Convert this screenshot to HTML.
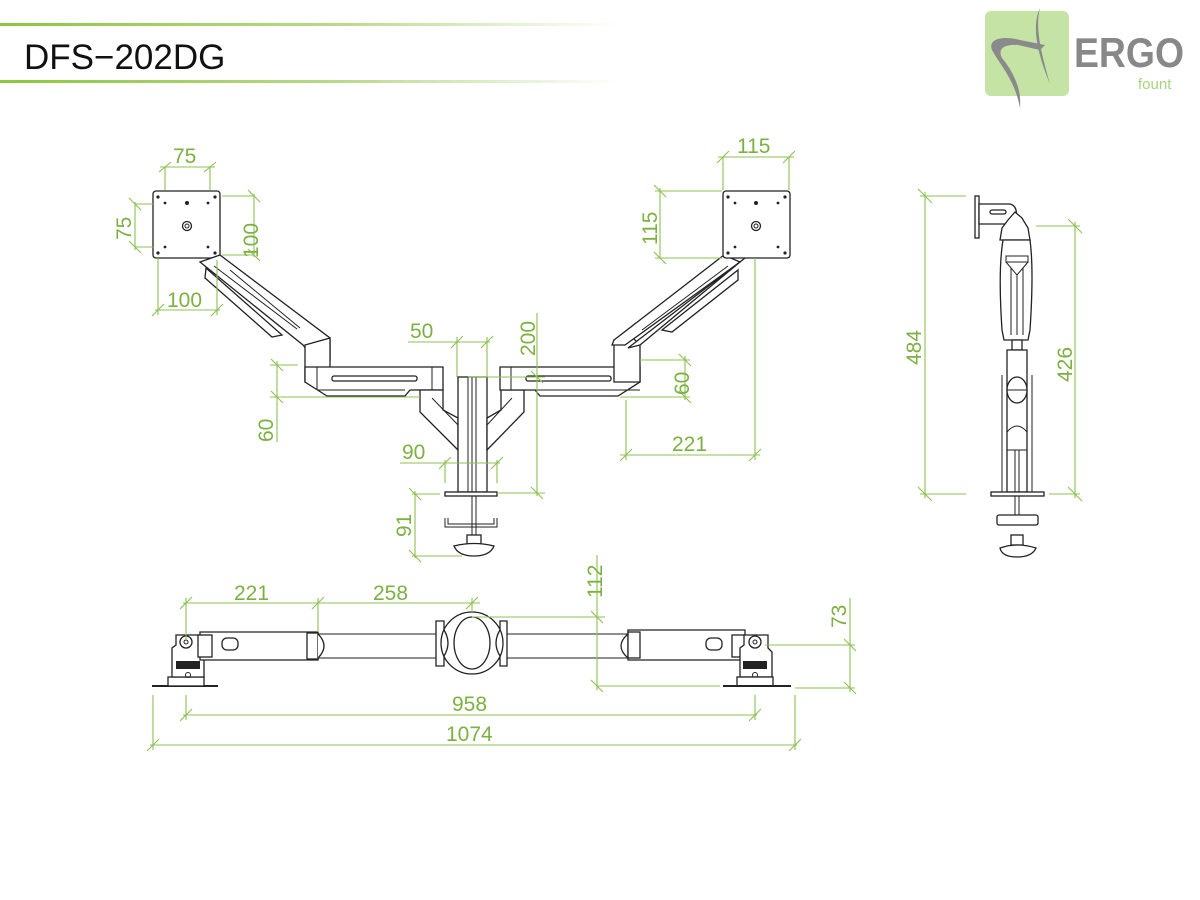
<!DOCTYPE html>
<html><head><meta charset="utf-8"><style>
html,body{margin:0;padding:0;background:#fff;}
svg{display:block}
text{font-family:"Liberation Sans",sans-serif;}
.g{stroke:#8cc152;stroke-width:1.1;fill:none}
.t{fill:#7db043;font-size:21px}
.k{stroke:#222;stroke-width:1.3;fill:#fff}
.kl{stroke:#222;stroke-width:1;fill:none}
</style></head><body>
<svg width="1200" height="900" viewBox="0 0 1200 900" xmlns="http://www.w3.org/2000/svg">
<defs>
<linearGradient id="hg" x1="0" x2="1" y1="0" y2="0">
<stop offset="0" stop-color="#8cc63f"/><stop offset="0.55" stop-color="#b9da8a"/><stop offset="1" stop-color="#fff"/>
</linearGradient>
</defs>
<!-- header -->
<rect x="0" y="23" width="620" height="3" fill="url(#hg)"/>
<rect x="0" y="80" width="620" height="3" fill="url(#hg)"/>
<text x="24" y="69" font-size="35" fill="#111">DFS−202DG</text>
<!-- logo -->
<rect x="985" y="11" width="84" height="85" rx="6" fill="#c5e3a5"/>
<path d="M1050 84 C1040 60,1030 28,1040 8 C1034 30,1044 62,1050 84Z" fill="#8a8a8a"/>
<path d="M1020 108 C1015 80,1000 65,992 50 C988 40,1000 35,1020 40 L1045 45 L1040 50 L1018 45 C1002 44,998 50,1002 58 C1012 70,1022 88,1020 108Z" fill="#8a8a8a"/>
<text x="1074" y="67" font-size="42" font-weight="bold" fill="#888" textLength="110" lengthAdjust="spacingAndGlyphs">ERGO</text>
<text x="1138" y="89" font-size="15" fill="#a8d27c">fount</text>

<!-- LEFT MONITOR PLATE -->
<rect class="k" x="153" y="191" width="67" height="67" rx="3"/>
<g fill="#222"><circle cx="158" cy="197" r="1.6"/><circle cx="215" cy="197" r="1.6"/><circle cx="158" cy="253" r="1.6"/><circle cx="215" cy="253" r="1.6"/>
<circle cx="165" cy="203" r="1.4"/><circle cx="208" cy="203" r="1.4"/><circle cx="165" cy="247" r="1.4"/><circle cx="208" cy="247" r="1.4"/><circle cx="187" cy="203" r="2"/></g>
<circle class="k" cx="187" cy="226" r="4.5"/><circle class="kl" cx="187" cy="226" r="2"/>
<!-- left diag arm -->
<polygon class="k" points="220,255 330,338 330,360 316,362 303,345 200,262"/>
<line class="kl" x1="214" y1="266" x2="297" y2="329"/>
<polygon class="k" points="206,268 282,335 272,337 205,278"/>
<line class="kl" x1="230" y1="270" x2="300" y2="328"/>
<path class="k" d="M305 345 L330 338 L330 382 L305 382 Z"/>
<!-- left horizontal arm -->
<path class="k" d="M305 367 L443 367 L443 390 L410 390 L405 396 L327 396 L305 382 Z"/>
<line class="kl" x1="317" y1="367" x2="317" y2="390"/>
<line class="kl" x1="317" y1="390" x2="405" y2="390"/>
<rect class="k" x="332" y="376" width="85" height="5" rx="2"/>
<line class="kl" x1="432" y1="367" x2="432" y2="390"/>
<!-- left V bracket -->
<path class="k" d="M420 390 L443 390 L443 410 L458 418 L458 450 L420 412 Z"/>
<line class="kl" x1="432" y1="398" x2="458" y2="425"/>
<!-- center pole -->
<rect class="k" x="458" y="377" width="29" height="115"/>
<line class="kl" x1="472" y1="377" x2="472" y2="492"/>
<line class="kl" x1="468" y1="377" x2="468" y2="492"/>
<line class="kl" x1="476" y1="377" x2="476" y2="492"/>
<rect class="k" x="445" y="492" width="52" height="4"/>
<line class="kl" x1="472" y1="496" x2="472" y2="540"/><line class="kl" x1="476" y1="496" x2="476" y2="540"/>
<path class="kl" d="M445 518 L445 527 L497 527 L497 518"/>
<path class="kl" d="M448 518 L448 524 L494 524 L494 518"/>
<rect class="k" x="467" y="535" width="14" height="9"/>
<path class="k" d="M454 546 Q474 541 494 546 Q490 556 474 556 Q458 556 454 546Z"/>

<!-- RIGHT V bracket -->
<path class="k" d="M524 390 L501 390 L501 410 L487 418 L487 450 L524 412 Z"/>
<line class="kl" x1="512" y1="398" x2="487" y2="425"/>
<!-- right horizontal arm -->
<path class="k" d="M500 367 L640 367 L640 382 L618 396 L540 396 L535 390 L500 390 Z"/>
<line class="kl" x1="511" y1="367" x2="511" y2="390"/>
<line class="kl" x1="511" y1="390" x2="640" y2="390"/>
<rect class="k" x="526" y="376" width="85" height="5" rx="2"/>
<path class="k" d="M614 340 L628 333 L640 345 L640 382 L614 382 Z"/>
<!-- right diag arm -->
<polygon class="k" points="724,255 740,262 625,345 612,345 614,340"/>
<polygon class="k" points="740,262 745,258 628,348 640,345"/>
<line class="kl" x1="728" y1="266" x2="642" y2="330"/>
<polygon class="k" points="738,270 738,280 672,332 662,330"/>
<!-- right plate -->
<rect class="k" x="723" y="191" width="67" height="67" rx="3"/>
<g fill="#222"><circle cx="728" cy="197" r="1.6"/><circle cx="785" cy="197" r="1.6"/><circle cx="728" cy="253" r="1.6"/><circle cx="785" cy="253" r="1.6"/>
<circle cx="735" cy="203" r="1.4"/><circle cx="778" cy="203" r="1.4"/><circle cx="735" cy="247" r="1.4"/><circle cx="778" cy="247" r="1.4"/><circle cx="756" cy="203" r="2"/></g>
<circle class="k" cx="756" cy="226" r="4.5"/><circle class="kl" cx="756" cy="226" r="2"/>

<!-- FRONT DIMENSIONS -->
<g class="g">
<line x1="160" y1="167" x2="215" y2="167"/><line x1="165" y1="167" x2="165" y2="190"/><line x1="210" y1="167" x2="210" y2="190"/>
<line x1="159" y1="172" x2="171" y2="162"/><line x1="204" y1="172" x2="216" y2="162"/>
<line x1="135" y1="202" x2="135" y2="250"/><line x1="135" y1="204" x2="153" y2="204"/><line x1="135" y1="247" x2="153" y2="247"/>
<line x1="129" y1="198" x2="141" y2="210"/><line x1="129" y1="241" x2="141" y2="253"/>
<line x1="254" y1="194" x2="254" y2="257"/><line x1="222" y1="196" x2="254" y2="196"/><line x1="222" y1="255" x2="254" y2="255"/>
<line x1="248" y1="190" x2="260" y2="202"/><line x1="248" y1="249" x2="260" y2="261"/>
<line x1="155" y1="310" x2="220" y2="310"/><line x1="158" y1="258" x2="158" y2="315"/><line x1="217" y1="260" x2="217" y2="315"/>
<line x1="152" y1="316" x2="164" y2="304"/><line x1="211" y1="316" x2="223" y2="304"/>
<!-- 60 left -->
<line x1="277" y1="361" x2="277" y2="442"/><line x1="270" y1="365" x2="298" y2="365"/><line x1="270" y1="397" x2="420" y2="397"/>
<line x1="271" y1="359" x2="283" y2="371"/><line x1="271" y1="391" x2="283" y2="403"/>
<!-- 50 -->
<line x1="408" y1="342" x2="490" y2="342"/><line x1="457" y1="337" x2="457" y2="377"/><line x1="487" y1="337" x2="487" y2="377"/>
<line x1="451" y1="348" x2="463" y2="336"/><line x1="481" y1="348" x2="493" y2="336"/>
<!-- 200 -->
<line x1="537" y1="313" x2="537" y2="496"/><line x1="468" y1="377" x2="545" y2="377"/><line x1="497" y1="493" x2="545" y2="493"/>
<line x1="531" y1="371" x2="543" y2="383"/><line x1="531" y1="487" x2="543" y2="499"/>
<!-- 90 -->
<line x1="400" y1="463" x2="500" y2="463"/><line x1="445" y1="460" x2="445" y2="483"/><line x1="497" y1="460" x2="497" y2="483"/>
<line x1="439" y1="469" x2="451" y2="457"/><line x1="491" y1="469" x2="503" y2="457"/>
<!-- 91 -->
<line x1="415" y1="491" x2="415" y2="558"/><line x1="412" y1="494" x2="440" y2="494"/><line x1="412" y1="556" x2="462" y2="556"/>
<line x1="409" y1="488" x2="421" y2="500"/><line x1="409" y1="550" x2="421" y2="562"/>
<!-- 60 right -->
<line x1="685" y1="356" x2="685" y2="400"/><line x1="640" y1="360" x2="690" y2="360"/><line x1="620" y1="397" x2="690" y2="397"/>
<line x1="679" y1="354" x2="691" y2="366"/><line x1="679" y1="391" x2="691" y2="403"/>
<!-- 221 right -->
<line x1="620" y1="455" x2="760" y2="455"/><line x1="626" y1="400" x2="626" y2="460"/><line x1="755" y1="258" x2="755" y2="460"/>
<line x1="620" y1="461" x2="632" y2="449"/><line x1="749" y1="461" x2="761" y2="449"/>
<!-- 115 top -->
<line x1="718" y1="157" x2="794" y2="157"/><line x1="723" y1="157" x2="723" y2="190"/><line x1="789" y1="157" x2="789" y2="190"/>
<line x1="717" y1="163" x2="729" y2="151"/><line x1="783" y1="163" x2="795" y2="151"/>
<!-- 115 left -->
<line x1="660" y1="188" x2="660" y2="258"/><line x1="655" y1="191" x2="722" y2="191"/><line x1="655" y1="258" x2="722" y2="258"/>
<line x1="654" y1="185" x2="666" y2="197"/><line x1="654" y1="252" x2="666" y2="264"/>
</g>
<g class="t">
<text x="173" y="163">75</text>
<text transform="translate(131,240) rotate(-90)">75</text>
<text transform="translate(258,258) rotate(-90)">100</text>
<text x="167" y="307">100</text>
<text transform="translate(273,442) rotate(-90)">60</text>
<text x="410" y="338">50</text>
<text transform="translate(535,356) rotate(-90)">200</text>
<text x="402" y="459">90</text>
<text transform="translate(411,537) rotate(-90)">91</text>
<text transform="translate(689,395) rotate(-90)">60</text>
<text x="672" y="451">221</text>
<text x="737" y="153">115</text>
<text transform="translate(657,245) rotate(-90)">115</text>
</g>

<!-- SIDE VIEW -->
<rect class="k" x="975" y="196" width="4" height="42"/>
<path class="k" d="M979 204 L1010 204 Q1018 206 1016 218 L1008 224 L979 224 Z"/>
<rect class="k" x="990" y="210" width="16" height="4" rx="2"/>
<path class="k" d="M1008 220 L1015 212 L1022 218 L1028 228 L1030 240 L1000 240 L1002 228 Z"/>
<path class="k" d="M1003 240 L1030 240 Q1034 270 1030 330 L1028 340 L1004 340 L1002 330 Q998 270 1003 240Z"/>
<rect class="kl" x="1006" y="256" width="22" height="6"/>
<path class="kl" d="M1006 262 L1017 275 L1028 262"/>
<line class="kl" x1="1011" y1="268" x2="1011" y2="335"/><line class="kl" x1="1017" y1="275" x2="1017" y2="335"/><line class="kl" x1="1023" y1="268" x2="1023" y2="335"/>
<rect class="k" x="1012" y="340" width="10" height="10"/>
<path class="k" d="M1007 350 L1027 350 L1027 492 L1007 492 Z"/>
<line class="kl" x1="1002" y1="375" x2="1002" y2="492"/><line class="kl" x1="1032" y1="375" x2="1032" y2="492"/>
<ellipse class="k" cx="1017" cy="390" rx="10" ry="13"/>
<line class="kl" x1="1007" y1="390" x2="1027" y2="390"/>
<path class="kl" d="M1007 432 Q1017 420 1027 432"/>
<line class="kl" x1="1007" y1="450" x2="1027" y2="450"/>
<line class="kl" x1="1015" y1="450" x2="1015" y2="515"/><line class="kl" x1="1019" y1="450" x2="1019" y2="515"/>
<rect class="k" x="991" y="492" width="53" height="4"/>
<rect class="k" x="997" y="515" width="41" height="10" rx="2"/>
<rect class="k" x="1011" y="535" width="12" height="10"/>
<path class="k" d="M1000 548 Q1017 542 1036 548 Q1032 557 1017 557 Q1002 557 1000 548Z"/>
<g class="g">
<line x1="925" y1="192" x2="925" y2="498"/><line x1="920" y1="196" x2="966" y2="196"/><line x1="920" y1="494" x2="966" y2="494"/>
<line x1="918" y1="189" x2="932" y2="203"/><line x1="918" y1="487" x2="932" y2="501"/>
<line x1="1075" y1="222" x2="1075" y2="498"/><line x1="1036" y1="226" x2="1080" y2="226"/><line x1="1049" y1="494" x2="1080" y2="494"/>
<line x1="1068" y1="219" x2="1082" y2="233"/><line x1="1068" y1="487" x2="1082" y2="501"/>
</g>
<g class="t">
<text transform="translate(921,365) rotate(-90)">484</text>
<text transform="translate(1072,382) rotate(-90)">426</text>
</g>

<!-- TOP VIEW -->
<line x1="152" y1="686" x2="218" y2="686" stroke="#222" stroke-width="2"/>
<rect class="k" x="168" y="677" width="36" height="9"/>
<path class="k" d="M172 677 L172 648 L176 645 L176 635 L200 635 L200 648 L204 652 L204 677Z"/>
<circle class="k" cx="186" cy="642" r="6"/><circle class="kl" cx="186" cy="642" r="2"/>
<rect x="176" y="661" width="24" height="8" fill="#222"/>
<circle class="kl" cx="188" cy="675" r="2.5"/>
<path class="k" d="M200 632 L318 632 L318 660 L200 660 Z"/>
<rect class="k" x="198" y="635" width="14" height="22"/>
<rect class="k" x="222" y="638" width="16" height="12" rx="5"/>
<path class="k" d="M307 633 L318 633 L318 659 L307 659 Z"/>
<path class="k" d="M318 634 Q330 646 318 658"/>
<line class="kl" x1="318" y1="634" x2="438" y2="634"/><line class="kl" x1="318" y1="658" x2="438" y2="658"/>
<path class="k" d="M436 621 L444 621 L444 666 L436 666 Z"/>
<path class="k" d="M500 621 L507 621 L507 666 L500 666 Z"/>
<circle class="k" cx="472" cy="643" r="31"/>
<ellipse class="k" cx="472" cy="643" rx="18" ry="26"/>
<path class="k" d="M444 630 Q452 643 444 656 M500 630 Q492 643 500 656"/>
<line class="kl" x1="507" y1="634" x2="628" y2="634"/><line class="kl" x1="507" y1="658" x2="628" y2="658"/>
<path class="k" d="M628 634 Q614 646 628 658"/>
<path class="k" d="M628 630 L745 630 L745 660 L628 660 Z"/>
<rect class="k" x="628" y="632" width="12" height="26"/>
<rect class="k" x="706" y="638" width="16" height="12" rx="5"/>
<rect class="k" x="732" y="635" width="14" height="22"/>
<path class="k" d="M740 677 L740 648 L744 645 L744 635 L768 635 L768 648 L772 652 L772 677Z"/>
<circle class="k" cx="755" cy="642" r="6"/><circle class="kl" cx="755" cy="642" r="2"/>
<rect x="743" y="661" width="24" height="8" fill="#222"/>
<circle class="kl" cx="755" cy="675" r="2.5"/>
<rect class="k" x="737" y="677" width="36" height="9"/>
<line x1="723" y1="686" x2="791" y2="686" stroke="#222" stroke-width="2"/>
<g class="g">
<line x1="183" y1="603" x2="480" y2="603"/><line x1="186" y1="598" x2="186" y2="640"/><line x1="318" y1="598" x2="318" y2="632"/><line x1="472" y1="598" x2="472" y2="612"/>
<line x1="180" y1="609" x2="192" y2="597"/><line x1="312" y1="609" x2="324" y2="597"/><line x1="466" y1="609" x2="478" y2="597"/>
<line x1="597" y1="555" x2="597" y2="690"/><line x1="472" y1="617" x2="605" y2="617"/><line x1="597" y1="686" x2="720" y2="686"/>
<line x1="591" y1="611" x2="603" y2="623"/><line x1="591" y1="680" x2="603" y2="692"/>
<line x1="850" y1="598" x2="850" y2="692"/><line x1="765" y1="645" x2="855" y2="645"/><line x1="795" y1="688" x2="855" y2="688"/>
<line x1="844" y1="639" x2="856" y2="651"/><line x1="844" y1="682" x2="856" y2="694"/>
<line x1="183" y1="715" x2="757" y2="715"/><line x1="186" y1="695" x2="186" y2="720"/><line x1="755" y1="695" x2="755" y2="720"/>
<line x1="180" y1="721" x2="192" y2="709"/><line x1="749" y1="721" x2="761" y2="709"/>
<line x1="150" y1="745" x2="797" y2="745"/><line x1="153" y1="695" x2="153" y2="750"/><line x1="795" y1="695" x2="795" y2="750"/>
<line x1="147" y1="751" x2="159" y2="739"/><line x1="789" y1="751" x2="801" y2="739"/>
</g>
<g class="t">
<text x="234" y="600">221</text>
<text x="373" y="600">258</text>
<text transform="translate(602,598) rotate(-90)">112</text>
<text transform="translate(846,628) rotate(-90)">73</text>
<text x="452" y="711">958</text>
<text x="446" y="741">1074</text>
</g>
</svg>
</body></html>
